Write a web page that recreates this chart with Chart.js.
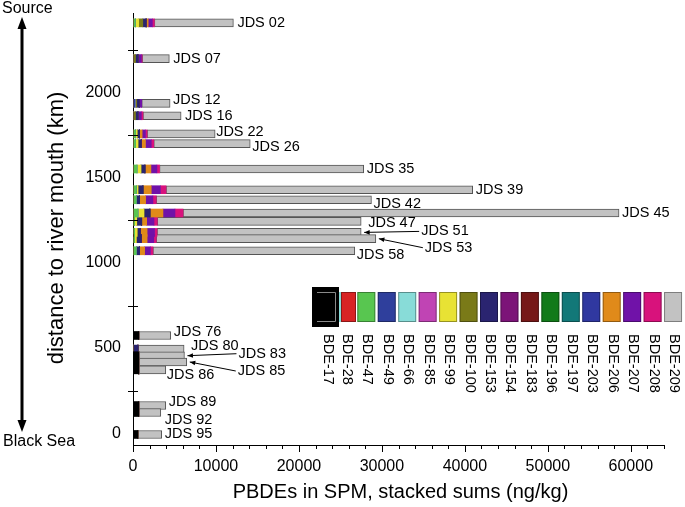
<!DOCTYPE html>
<html>
<head>
<meta charset="utf-8">
<script src="https://cdn.jsdelivr.net/npm/chart.js@4.4.1/dist/chart.umd.min.js"></script>
<style>
  html, body { margin: 0; padding: 0; background: #fff; }
  #wrap { width: 685px; height: 507px; }
</style>
</head>
<body>
<div id="wrap"><canvas id="myChart" width="685" height="507"></canvas></div>
<script>
// sampling stations and their distance to the river mouth (km)
const stations = ['JDS 02', 'JDS 07', 'JDS 12', 'JDS 16', 'JDS 22', 'JDS 26', 'JDS 35', 'JDS 39', 'JDS 42', 'JDS 45', 'JDS 47',
    'JDS 51', 'JDS 53', 'JDS 58', 'JDS 76', 'JDS 80', 'JDS 83', 'JDS 85', 'JDS 86', 'JDS 89', 'JDS 92', 'JDS 95'];
const riverKm = [2412, 2202, 1939, 1866, 1759, 1702, 1553, 1431, 1372, 1294, 1245,
    1180, 1143, 1072, 574, 494, 455, 418, 372, 162, 121, -8];

// congener concentrations in SPM (ng/kg), same order as stations
const congeners = ['BDE-17', 'BDE-28', 'BDE-47', 'BDE-49', 'BDE-66', 'BDE-85', 'BDE-99', 'BDE-100', 'BDE-153',
    'BDE-154', 'BDE-183', 'BDE-196', 'BDE-197', 'BDE-203', 'BDE-206', 'BDE-207', 'BDE-208', 'BDE-209'];
const bde17 = [0, 0, 0, 0, 0, 0, 0, 0, 0, 0, 0, 0, 0, 0, 700, 0, 700, 700, 700, 700, 700, 600];
const bde28 = [0, 0, 0, 0, 0, 0, 0, 0, 0, 0, 0, 0, 0, 0, 0, 0, 0, 0, 0, 0, 0, 0];
const bde47 = [280, 0, 0, 0, 300, 300, 480, 400, 400, 600, 200, 200, 200, 400, 0, 0, 0, 0, 0, 0, 0, 0];
const bde49 = [0, 0, 250, 0, 0, 0, 0, 0, 0, 0, 0, 0, 0, 0, 0, 0, 0, 0, 0, 0, 0, 0];
const bde66 = [0, 0, 0, 0, 0, 0, 0, 0, 0, 0, 0, 0, 0, 0, 0, 0, 0, 0, 0, 0, 0, 0];
const bde85 = [0, 0, 0, 0, 0, 0, 0, 0, 0, 0, 0, 0, 0, 0, 0, 0, 0, 0, 0, 0, 0, 0];
const bde99 = [400, 0, 0, 0, 200, 300, 480, 200, 0, 720, 250, 300, 200, 0, 0, 0, 0, 0, 0, 0, 0, 0];
const bde100 = [500, 300, 200, 300, 0, 0, 0, 0, 0, 0, 0, 0, 0, 0, 0, 0, 0, 0, 0, 0, 0, 0];
const bde153 = [400, 300, 300, 300, 300, 400, 480, 600, 400, 720, 600, 400, 600, 400, 0, 600, 0, 0, 0, 0, 0, 0];
const bde154 = [0, 0, 0, 0, 0, 0, 0, 0, 0, 0, 0, 0, 0, 0, 0, 0, 0, 0, 0, 0, 0, 0];
const bde183 = [0, 0, 0, 0, 0, 0, 0, 0, 0, 0, 0, 0, 0, 0, 0, 0, 0, 0, 0, 0, 0, 0];
const bde196 = [0, 0, 0, 0, 0, 0, 0, 0, 0, 0, 0, 0, 0, 0, 0, 0, 0, 0, 0, 0, 0, 0];
const bde197 = [0, 0, 0, 0, 0, 0, 0, 0, 0, 0, 0, 0, 0, 0, 0, 0, 0, 0, 0, 0, 0, 0];
const bde203 = [0, 0, 0, 0, 0, 0, 0, 0, 0, 0, 0, 0, 0, 0, 0, 0, 0, 0, 0, 0, 0, 0];
const bde206 = [250, 0, 0, 0, 300, 500, 720, 1000, 720, 1570, 600, 800, 700, 600, 0, 0, 0, 0, 0, 0, 0, 0];
const bde207 = [500, 400, 300, 400, 400, 700, 720, 1100, 880, 1450, 880, 900, 800, 700, 0, 0, 0, 0, 0, 0, 0, 0];
const bde208 = [250, 100, 0, 200, 200, 300, 320, 680, 400, 970, 400, 300, 300, 300, 0, 0, 0, 0, 0, 0, 0, 0];
const bde209 = [9520, 3280, 3420, 4600, 8200, 11630, 24610, 36960, 25940, 52550, 24570,
    24600, 26470, 24330, 3850, 5560, 5500, 5780, 3250, 3250, 2650, 2860];

// axis ticks
const kmTicks = [0, 500, 1000, 1500, 2000];
const concTicks = [0, 10000, 20000, 30000, 40000, 50000, 60000];

const series = [bde17, bde28, bde47, bde49, bde66, bde85, bde99, bde100, bde153,
    bde154, bde183, bde196, bde197, bde203, bde206, bde207, bde208, bde209];
const colors = ['#000000', '#d82424', '#58c650', '#2f3f9c', '#88dcd8', '#c044b4', '#e8e234', '#7a7a18', '#2a2470',
    '#7c1478', '#761818', '#127a1a', '#127878', '#3038a0', '#e08a1a', '#7012a8', '#d8127c', '#c2c2c2'];

// label placement next to the bar ends (px)
const labelDx = [4, 4, 3, 4, 1, 2, 3, 3, 2, 3, 7, 60, 49, 2, 3, 7, 54, 51, 1, 3, 4, 3];
const labelDy = [0, 0, -3, 0, -2, 3, 0, 0, 4, 0, 2, -1, 9, 4, -3, -3, -2, 9, 5, -4, 7, 0];
const leaderLabels = ['JDS 51', 'JDS 53', 'JDS 83', 'JDS 85'];

const FONT = '"Liberation Sans", Arial, sans-serif';

const datasets = series.map((values, i) => ({
    label: congeners[i],
    data: values.map((v, j) => ({x: v, y: riverKm[j]})),
    backgroundColor: colors[i],
    borderColor: '#555555',
    borderWidth: i === series.length - 1 ? 1 : 0,
    borderSkipped: false,
    barThickness: 8
}));

const arrowHead = (ctx, fromX, fromY, toX, toY, size) => {
    const a = Math.atan2(toY - fromY, toX - fromX);
    ctx.beginPath();
    ctx.moveTo(toX, toY);
    ctx.lineTo(toX - size * Math.cos(a - 0.4), toY - size * Math.sin(a - 0.4));
    ctx.lineTo(toX - size * Math.cos(a + 0.4), toY - size * Math.sin(a + 0.4));
    ctx.closePath();
    ctx.fill();
};

const decorations = {
    id: 'decorations',
    afterDraw(chart) {
        const {ctx, scales: {x, y}} = chart;
        ctx.save();
        ctx.strokeStyle = '#000';
        ctx.fillStyle = '#000';
        ctx.lineWidth = 1;

        // y tick marks between labels, crossing the axis
        for (let v = 250; v < y.max; v += 500) {
            const py = Math.round(y.getPixelForValue(v)) + 0.5;
            ctx.beginPath();
            ctx.moveTo(x.left - 5, py);
            ctx.lineTo(x.left + 5, py);
            ctx.stroke();
        }
        // x tick marks, major and minor
        for (let v = 0; v <= x.max; v += 2000) {
            const px = Math.round(x.getPixelForValue(v)) + 0.5;
            ctx.beginPath();
            ctx.moveTo(px, y.bottom);
            ctx.lineTo(px, y.bottom + (v % 10000 === 0 ? 7 : 4));
            ctx.stroke();
        }

        // station labels
        const meta = chart.getDatasetMeta(chart.data.datasets.length - 1);
        ctx.font = '14.5px ' + FONT;
        ctx.textBaseline = 'middle';
        ctx.textAlign = 'left';
        meta.data.forEach((bar, i) => {
            const lx = bar.x + labelDx[i];
            const ly = bar.y + labelDy[i];
            ctx.fillText(stations[i], lx, ly);
            if (leaderLabels.includes(stations[i])) {
                ctx.beginPath();
                ctx.moveTo(lx - 2, ly);
                ctx.lineTo(bar.x + 3, bar.y);
                ctx.stroke();
                arrowHead(ctx, lx - 2, ly, bar.x + 3, bar.y, 6);
            }
        });

        // axis titles
        ctx.textAlign = 'center';
        ctx.font = '20px ' + FONT;
        ctx.fillText('PBDEs in SPM, stacked sums (ng/kg)', (x.left + x.right) / 2 + 2, 492);
        ctx.save();
        ctx.translate(57, 228);
        ctx.rotate(-Math.PI / 2);
        ctx.font = '22px ' + FONT;
        ctx.fillText('distance to river mouth (km)', 0, 0);
        ctx.restore();

        // source / sea arrow
        ctx.font = '16px ' + FONT;
        ctx.textAlign = 'left';
        ctx.fillText('Source', 2, 9);
        ctx.fillText('Black Sea', 3, 442);
        ctx.lineWidth = 3;
        ctx.beginPath();
        ctx.moveTo(22, 26);
        ctx.lineTo(22, 422);
        ctx.stroke();
        ctx.beginPath();
        ctx.moveTo(22, 17); ctx.lineTo(26.5, 29); ctx.lineTo(17.5, 29); ctx.closePath(); ctx.fill();
        ctx.beginPath();
        ctx.moveTo(22, 432); ctx.lineTo(26.5, 420); ctx.lineTo(17.5, 420); ctx.closePath(); ctx.fill();

        // colour key
        ctx.lineWidth = 1;
        const boxTop = 292, boxH = 30, boxW = 18, pitch = 20.45;
        for (let i = 1; i < colors.length; i++) {
            const left = 357.3 + (i - 2) * pitch;
            const bx = i === 1 ? 341 : left;
            const bw = i === 1 ? 15 : boxW;
            ctx.fillStyle = colors[i];
            ctx.fillRect(bx, boxTop, bw, boxH);
            ctx.strokeStyle = 'rgba(0,0,0,0.35)';
            ctx.strokeRect(bx + 0.5, boxTop + 0.5, bw - 1, boxH - 1);
        }
        ctx.fillStyle = '#88dcd8';
        ctx.fillRect(338, boxTop, 3, boxH);
        ctx.fillStyle = colors[0];
        ctx.fillRect(312, 287, 27, 40);
        ctx.strokeStyle = '#8a8a8a';
        ctx.beginPath();
        ctx.moveTo(317, 292.5); ctx.lineTo(335.5, 292.5); ctx.lineTo(335.5, 321.5); ctx.lineTo(317, 321.5);
        ctx.stroke();

        ctx.fillStyle = '#000';
        ctx.font = '14.5px ' + FONT;
        ctx.textBaseline = 'middle';
        ctx.textAlign = 'left';
        congeners.forEach((name, i) => {
            const cx = i === 0 ? 328 : 357.3 + (i - 2) * pitch + 10;
            ctx.save();
            ctx.translate(cx, 334);
            ctx.rotate(Math.PI / 2);
            ctx.fillText(name, 0, 0);
            ctx.restore();
        });
        ctx.restore();
    }
};

Chart.defaults.font.family = FONT;
Chart.defaults.color = '#000';

new Chart(document.getElementById('myChart'), {
    type: 'bar',
    data: {datasets},
    options: {
        indexAxis: 'y',
        responsive: false,
        animation: false,
        layout: {padding: {top: 13, right: 21, left: 0, bottom: 0}},
        plugins: {legend: {display: false}, tooltip: {enabled: false}},
        scales: {
            x: {
                type: 'linear',
                stacked: true,
                min: 0,
                max: 64000,
                grid: {display: false, drawTicks: false},
                border: {display: true, color: '#000', width: 1},
                ticks: {font: {size: 16}, padding: 12, maxRotation: 0, callback: (v) => String(v)},
                afterBuildTicks: (scale) => {
                    scale.ticks = concTicks.map(v => ({value: v}));
                },
                afterFit: (scale) => {
                    scale.height = 62;
                    scale.paddingLeft = 0;
                    scale.paddingRight = 0;
                }
            },
            y: {
                type: 'linear',
                stacked: true,
                offset: false,
                min: -70,
                max: 2470,
                grid: {display: false, drawTicks: false, offset: false},
                border: {display: true, color: '#000', width: 1},
                ticks: {font: {size: 16}, padding: 12, callback: (v) => String(v)},
                afterBuildTicks: (scale) => {
                    scale.ticks = kmTicks.map(v => ({value: v}));
                },
                afterFit: (scale) => {
                    scale.width = 133;
                    scale.paddingTop = 0;
                    scale.paddingBottom = 0;
                }
            }
        }
    },
    plugins: [decorations]
});
</script>
</body>
</html>
